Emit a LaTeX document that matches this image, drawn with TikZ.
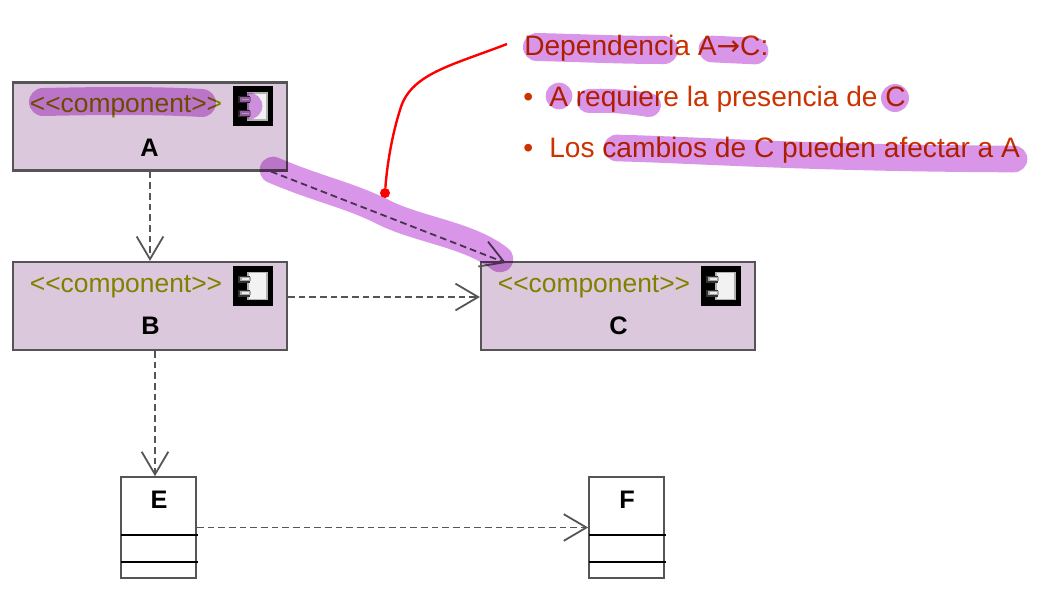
\documentclass[tikz,border=0pt]{standalone}
\usepackage{fontspec}
\setmainfont{Liberation Sans}
\newfontfamily\arrowfont{DejaVu Sans}
\usetikzlibrary{arrows.meta, calc}
\definecolor{boxFill}{RGB}{220, 200, 220}
\definecolor{boxLine}{RGB}{85, 85, 85}
\definecolor{stereo}{RGB}{128, 128, 0}
\definecolor{noteRed}{RGB}{204, 51, 0}
\definecolor{marker}{RGB}{217, 150, 232}

\begin{document}
\begin{tikzpicture}[
    x=0.75pt, y=-0.75pt,
    compbox/.style={rectangle, draw=boxLine, fill=boxFill, line width=1.6pt, minimum width=205.5pt, minimum height=66pt, inner sep=0pt},
    classbox/.style={rectangle, draw=boxLine, fill=white, line width=1.5pt, minimum width=56pt, minimum height=75.5pt, inner sep=0pt},
    stereotype/.style={text=stereo, font=\fontsize{19.8pt}{22pt}\selectfont, inner sep=0pt},
    boxname/.style={text=black, font=\fontsize{19pt}{22pt}\selectfont\bfseries, inner sep=0pt},
    notetext/.style={text=noteRed, font=\fontsize{21.1pt}{24pt}\selectfont, anchor=base west, inner sep=0pt},
    depend/.style={draw=boxLine, line width=1.35pt, dash pattern=on 5pt off 3pt, -{Straight Barb[length=17pt, width=20pt, line width=1.35pt]}},
    compart/.style={draw=black, line width=1.4pt},
    highlight/.style={draw=marker, blend mode=multiply, line cap=round, line join=round, line width=20pt},
    dot/.style={circle, fill=marker, blend mode=multiply, inner sep=0pt},
    compicon/.pic={
        \fill[black] (-20,-20) rectangle (20,20);
        \draw[gray!60, fill=gray!10, line width=1.4pt] (-5,-13) rectangle (14,14);
        \fill[black!80] (-15,-10) rectangle (-3,-3);
        \fill[black!80] (-15,4) rectangle (-3,11);
        \draw[gray!70, fill=gray!15, line width=0.9pt] (-12,-8) rectangle (-3,-5);
        \draw[gray!70, fill=gray!15, line width=0.9pt] (-12,6) rectangle (-3,9);
    }
]
    \useasboundingbox (0,0) rectangle (1038,601);

    % components
    \node[compbox] (A) at (150,126.5) {};
    \node[compbox] (B) at (150,306) {};
    \node[compbox] (C) at (618,306) {};
    \node[stereotype] (stereoA) at (126,106.5) {{<}{<}component{>}{>}};
    \node[stereotype] (stereoB) at (126,286.5) {{<}{<}component{>}{>}};
    \node[stereotype] (stereoC) at (594,286.5) {{<}{<}component{>}{>}};
    \node[boxname] (nameA) at (149.5,147.5) {A};
    \node[boxname] (nameB) at (150.5,326) {B};
    \node[boxname] (nameC) at (618.5,326) {C};
    \pic at (253,106) {compicon};
    \pic at (253,285.5) {compicon};
    \pic at (721,285.5) {compicon};

    % classes
    \node[classbox] (E) at (158.5,527.5) {};
    \node[classbox] (F) at (626.5,527.5) {};
    \node[boxname] (nameE) at (159,499.5) {E};
    \node[boxname] (nameF) at (627,499.5) {F};
    \draw[compart] (121,535) -- (198,535);
    \draw[compart] (121,562) -- (198,562);
    \draw[compart] (589,535) -- (666,535);
    \draw[compart] (589,562) -- (666,562);

    % dependencies
    \draw[depend] (A.south) -- (B.north);
    \draw[depend] ($(A.south east)+(-17,0)$) -- ($(C.north west)+(26,2)$);
    \draw[depend] ($(B.east)+(0,-9)$) -- ($(C.west)+(0,-9)$);
    \draw[depend] ($(B.south)+(5,0)$) -- ($(E.north)+(-3.5,0)$);
    \draw[depend] (E.east) -- (F.west);

    % note
    \node[notetext] (title) at (524,55) {Dependencia A{\arrowfont→}C:};
    \node[notetext] (bulletA) at (523,106) {•};
    \node[notetext] (lineA) at (549,106) {A requiere la presencia de C};
    \node[notetext] (bulletB) at (523,157) {•};
    \node[notetext] (lineB) at (549,157) {Los cambios de C pueden afectar a A};

    % leader
    \coordinate (leadstart) at (507,44);
    \node[circle, fill=red, minimum size=7.5pt, inner sep=0pt] (leadend) at (385,193) {};
    \draw[red, line width=1.8pt] (leadstart) .. controls (450,66) and (410,74) .. (400,110) .. controls (392,135) and (387,165) .. (leadend);

    % marker strokes
    \draw[highlight, line width=21pt] (43,102) .. controls (90,101) and (150,100) .. (202,103);
    \node[dot, minimum size=20pt] (dotIcon) at (249,106) {};
    \draw[highlight] (273,170) .. controls (320,190) and (350,195) .. (385,213) .. controls (420,230) and (470,235) .. (500,259);
    \draw[highlight, line width=21pt] (537,47) .. controls (580,48) and (620,50) .. (664,50);
    \draw[highlight, line width=20pt] (712,49) -- (755,51);
    \node[dot, minimum size=20pt] (dotA) at (559,96) {};
    \draw[highlight, line width=18pt] (589,101) .. controls (610,100) and (630,102) .. (649,105);
    \node[dot, minimum size=21pt] (dotC) at (895,98) {};
    \draw[highlight, line width=20pt] (617,148) .. controls (700,150) and (800,158) .. (1014,159);
\end{tikzpicture}
\end{document}
